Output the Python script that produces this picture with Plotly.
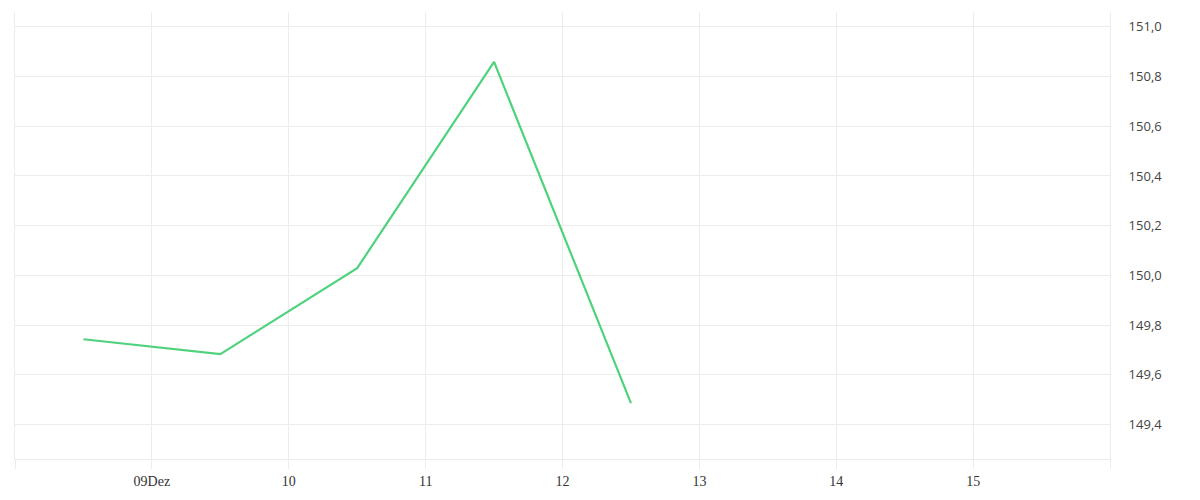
import plotly.graph_objects as go

# daily closing values, plotted at midday
dates = ["2023-12-08 12:00", "2023-12-09 12:00", "2023-12-10 12:00",
         "2023-12-11 12:00", "2023-12-12 12:00"]
prices = [149.743, 149.683, 150.029, 150.859, 149.486]

tick_days = ["2023-12-08", "2023-12-09", "2023-12-10", "2023-12-11", "2023-12-12",
             "2023-12-13", "2023-12-14", "2023-12-15", "2023-12-16"]
tick_labels = ["", "09Dez", "10", "11", "12", "13", "14", "15", ""]
y_ticks = [149.4, 149.6, 149.8, 150.0, 150.2, 150.4, 150.6, 150.8, 151.0]

GRID = "#ececec"

fig = go.Figure(
    data=[go.Scatter(
        x=dates,
        y=prices,
        mode="lines",
        line=dict(color="#4fd27d", width=2.2),
        hoverinfo="x+y",
    )]
)

# the page body adds ~8px offset, margins compensate for it
fig.update_layout(
    width=1200,
    height=500,
    margin=dict(l=7, r=98, t=4, b=49),
    paper_bgcolor="white",
    plot_bgcolor="white",
    showlegend=False,
    separators=",.",
    xaxis=dict(
        range=["2023-12-08", "2023-12-16"],
        tickmode="array",
        tickvals=tick_days,
        ticktext=tick_labels,
        showgrid=True,
        gridcolor=GRID,
        gridwidth=1,
        ticks="outside",
        ticklen=9,
        tickcolor=GRID,
        showline=True,
        linecolor=GRID,
        linewidth=1,
        zeroline=False,
        tickfont=dict(family="Liberation Serif", size=14, color="#333333"),
    ),
    yaxis=dict(
        side="right",
        range=[149.261, 151.060],
        tickmode="array",
        tickvals=y_ticks,
        tickformat=".1f",
        showgrid=True,
        gridcolor=GRID,
        gridwidth=1,
        showline=True,
        mirror=True,
        linecolor=GRID,
        linewidth=1,
        zeroline=False,
        ticks="",
        ticklabelstandoff=15,
        tickfont=dict(family="Open Sans", size=13, color="#444444"),
    ),
)

fig.write_html("out.html")
